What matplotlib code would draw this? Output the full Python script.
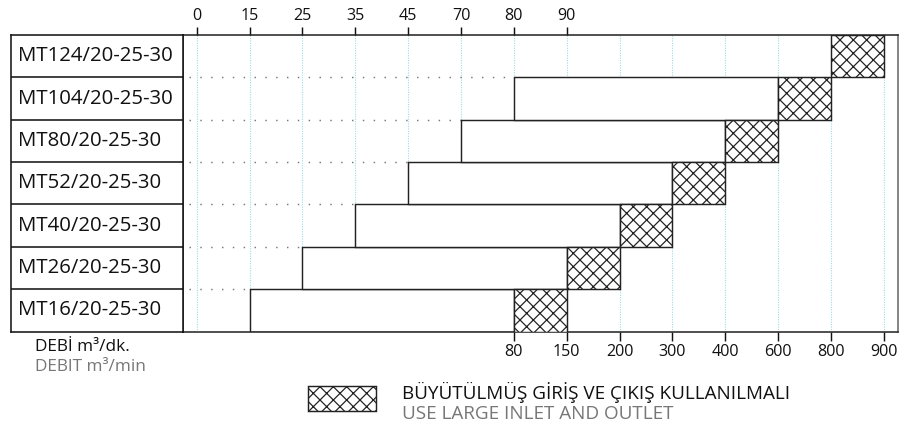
import numpy as np
import matplotlib.pyplot as plt
from matplotlib.patches import Rectangle

plt.rcParams['font.family'] = ['Open Sans', 'DejaVu Sans']
plt.rcParams['hatch.color'] = 'black'
plt.rcParams['hatch.linewidth'] = 1.1

# data
models = ['MT16/20-25-30', 'MT26/20-25-30', 'MT40/20-25-30', 'MT52/20-25-30',
          'MT80/20-25-30', 'MT104/20-25-30', 'MT124/20-25-30']
top_ticks = [0, 15, 25, 35, 45, 70, 80, 90]
bottom_ticks = [80, 150, 200, 300, 400, 600, 800, 900]
min_flow = [15, 25, 35, 45, 70, 80, None]          # top scale
large_from = [80, 150, 200, 300, 400, 600, 800]    # bottom scale
large_to = [150, 200, 300, 400, 600, 800, 900]

W, H = 908, 428
DPI = 80
fig = plt.figure(figsize=(W / DPI, H / DPI), dpi=DPI)

def fx(px):
    return px / W

def fy(py):
    return 1 - py / H

# positions on the shared index scale
off = top_ticks.index(80)
pos_top = {v: i for i, v in enumerate(top_ticks)}
pos_bot = {v: i + off for i, v in enumerate(bottom_ticks)}
n_pos = off + len(bottom_ticks)

top, bot = 35, 331.5
ax = fig.add_axes([fx(183), fy(bot), fx(897.5) - fx(183), fy(top) - fy(bot)])
lab = fig.add_axes([fx(11), fy(bot), fx(183) - fx(11), fy(top) - fy(bot)])

ax.set_xlim(-0.26, n_pos - 1 + 0.26)
ax.set_ylim(0, len(models))

# cyan grid
ax.vlines(np.arange(n_pos), 0, len(models), color='#9fdce4', lw=1.0,
          linestyle=(0, (1, 1.2)), zorder=0)

edge = '#222222'
for i, m in enumerate(models):
    h0 = pos_bot[large_from[i]]
    h1 = pos_bot[large_to[i]]
    if min_flow[i] is not None:
        s = pos_top[min_flow[i]]
        ax.barh(i + 0.5, h0 - s, left=s, height=1, color='white',
                edgecolor=edge, lw=1.3, zorder=2)
        ax.plot([-0.15, s], [i + 1, i + 1], color='#777777', lw=1.3,
                linestyle=(0, (1, 6.5)), zorder=1)
    ax.barh(i + 0.5, h1 - h0, left=h0, height=1, color='white',
            edgecolor=edge, hatch='xx', lw=1.3, zorder=3)

ax.set_xticks(list(pos_top.values()))
ax.set_xticklabels([str(v) for v in top_ticks])
ax.xaxis.tick_top()
ax.tick_params(axis='x', length=7.5, width=1.3, pad=2, labelsize=14.5,
               colors='#111111')
ax.set_yticks([])

sec = ax.secondary_xaxis('bottom')
sec.set_xticks(list(pos_bot.values()))
sec.set_xticklabels([str(v) for v in bottom_ticks])
sec.tick_params(axis='x', length=8, width=1.3, pad=3, labelsize=14.5,
                colors='#111111')
sec.spines['bottom'].set_visible(False)

for sp in ['top', 'bottom', 'left']:
    ax.spines[sp].set_color('#222222')
    ax.spines[sp].set_linewidth(1.4)
ax.spines['right'].set_color('#666666')
ax.spines['right'].set_linewidth(1.4)

# label column
lab.set_xlim(0, 1)
lab.set_ylim(0, len(models))
lab.set_xticks([])
lab.set_yticks([])
for sp in lab.spines.values():
    sp.set_color('#111111')
    sp.set_linewidth(1.4)
lab.hlines(np.arange(1, len(models)), 0, 1, color='#111111', lw=1.4)
for i, m in enumerate(models):
    lab.text(7 / 172, i + 0.5, m, fontsize=18.4, va='center', ha='left',
             color='#111111')

# unit text
fig.text(fx(35), fy(347), 'DEBİ m³/dk.', fontsize=15.5, va='center',
         color='#111111')
fig.text(fx(35), fy(367), 'DEBIT m³/min', fontsize=15.5, va='center',
         color='#777777')

# legend
fig.add_artist(Rectangle((fx(308), fy(411)), fx(376) - fx(308), fy(386) - fy(411),
                         transform=fig.transFigure, facecolor='white',
                         edgecolor=edge, hatch='xx', lw=1.3))
fig.text(fx(402), fy(392), 'BÜYÜTÜLMÜŞ GİRİŞ VE ÇIKIŞ KULLANILMALI',
         fontsize=17, va='center', color='#111111')
fig.text(fx(402), fy(414), 'USE LARGE INLET AND OUTLET',
         fontsize=17, va='center', color='#777777')

fig.savefig('out.png', dpi=DPI)
